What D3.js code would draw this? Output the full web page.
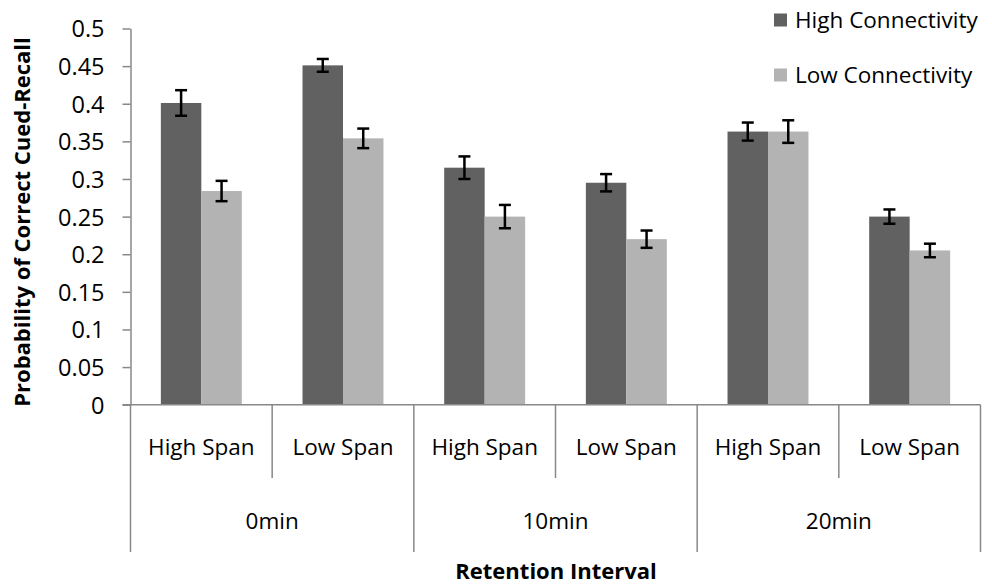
<!DOCTYPE html>
<html>
<head>
<meta charset="utf-8">
<script src="https://cdn.jsdelivr.net/npm/d3@7"></script>
<style>
  html, body { margin: 0; padding: 0; background: #fff; }
  svg { display: block; font-family: "Open Sans", sans-serif; }
</style>
</head>
<body>
<svg id="chart" width="992" height="584"></svg>
<script>
// Retention interval groups and the span conditions within each
const groups = ["0min", "10min", "20min"];
const spans = ["High Span", "Low Span"];
const seriesNames = ["High Connectivity", "Low Connectivity"];
const seriesColors = ["#616161", "#b3b3b3"];

// Mean probability of correct cued-recall, in group/span order
const highConnectivity = [0.401, 0.451, 0.315, 0.295, 0.363, 0.250];
const lowConnectivity  = [0.284, 0.354, 0.250, 0.220, 0.363, 0.205];
// Standard errors
const highConnectivityErr = [0.017, 0.0085, 0.015, 0.0115, 0.012, 0.0095];
const lowConnectivityErr  = [0.0135, 0.013, 0.0155, 0.0115, 0.015, 0.009];

const yTicks = [0, 0.05, 0.1, 0.15, 0.2, 0.25, 0.3, 0.35, 0.4, 0.45, 0.5];

const svg = d3.select("#chart");
const axisColor = "#888888";
const labelSize = "22.5px";
const tickSize = "23.5px";
const titleSize = "22px";

const plot = { left: 130.5, right: 980.5, top: 28.5, bottom: 404.7 };

const cells = [];
groups.forEach(g => spans.forEach(s => cells.push(g + "|" + s)));

const x0 = d3.scaleBand().domain(cells).range([plot.left, plot.right]).paddingInner(0).paddingOuter(0);
const gx = d3.scaleBand().domain(groups).range([plot.left, plot.right]);
const y = d3.scaleLinear().domain([0, 0.5]).range([plot.bottom, plot.top]);

// bars take 1/3.5 of a cell each (gap width 150%)
const barW = x0.bandwidth() / 3.5;
const x1 = d3.scaleBand().domain(seriesNames)
  .range([(x0.bandwidth() - 2 * barW) / 2, (x0.bandwidth() + 2 * barW) / 2]);

const rows = cells.map((c, i) => ({
  cell: c,
  values: [
    { series: seriesNames[0], v: highConnectivity[i], e: highConnectivityErr[i], color: seriesColors[0] },
    { series: seriesNames[1], v: lowConnectivity[i], e: lowConnectivityErr[i], color: seriesColors[1] }
  ]
}));

// y axis
const yAxis = d3.axisLeft(y).tickValues(yTicks).tickSize(8).tickSizeOuter(0)
  .tickFormat(d3.format("~g"));
const yG = svg.append("g").attr("transform", `translate(${plot.left},0)`).call(yAxis);
yG.select(".domain").attr("stroke", axisColor).attr("stroke-width", 1.5);
yG.selectAll(".tick line").attr("stroke", axisColor).attr("stroke-width", 1.5);
yG.selectAll(".tick text").attr("x", -26).attr("dy", "0.36em").attr("fill", "#000")
  .style("font-size", tickSize).style("font-family", "'Open Sans', sans-serif");

// bars
const cellG = svg.append("g").selectAll("g").data(rows).join("g")
  .attr("transform", d => `translate(${x0(d.cell)},0)`);

cellG.selectAll("rect").data(d => d.values).join("rect")
  .attr("x", d => x1(d.series))
  .attr("width", x1.bandwidth())
  .attr("y", d => y(d.v))
  .attr("height", d => y(0) - y(d.v))
  .attr("fill", d => d.color);

// error bars
const errG = cellG.selectAll("g.err").data(d => d.values).join("g").attr("class", "err")
  .attr("transform", d => `translate(${x1(d.series) + x1.bandwidth() / 2},0)`);
errG.append("line").attr("x1", 0).attr("x2", 0)
  .attr("y1", d => y(d.v + d.e)).attr("y2", d => y(d.v - d.e))
  .attr("stroke", "#000").attr("stroke-width", 2.5);
errG.append("line").attr("x1", -6).attr("x2", 6)
  .attr("y1", d => y(d.v + d.e)).attr("y2", d => y(d.v + d.e))
  .attr("stroke", "#000").attr("stroke-width", 2.5);
errG.append("line").attr("x1", -6).attr("x2", 6)
  .attr("y1", d => y(d.v - d.e)).attr("y2", d => y(d.v - d.e))
  .attr("stroke", "#000").attr("stroke-width", 2.5);

// category axis: baseline, dividers and two label tiers
svg.append("line").attr("x1", plot.left - 8).attr("x2", plot.right)
  .attr("y1", y(0)).attr("y2", y(0)).attr("stroke", axisColor).attr("stroke-width", 1.5);

const cellEdges = cells.map(c => x0(c)).concat([plot.right]);
svg.append("g").selectAll("line").data(cellEdges).join("line")
  .attr("x1", d => d).attr("x2", d => d)
  .attr("y1", y(0)).attr("y2", 478)
  .attr("stroke", axisColor).attr("stroke-width", 1.5);

const groupEdges = groups.map(g => gx(g)).concat([plot.right]);
svg.append("g").selectAll("line").data(groupEdges).join("line")
  .attr("x1", d => d).attr("x2", d => d)
  .attr("y1", 478).attr("y2", 552)
  .attr("stroke", axisColor).attr("stroke-width", 1.5);

svg.append("g").selectAll("text").data(cells).join("text")
  .attr("x", d => x0(d) + x0.bandwidth() / 2)
  .attr("y", 447).attr("dy", "0.36em")
  .attr("text-anchor", "middle")
  .style("font-size", labelSize)
  .text(d => d.split("|")[1]);

svg.append("g").selectAll("text").data(groups).join("text")
  .attr("x", d => gx(d) + gx.bandwidth() / 2)
  .attr("y", 521).attr("dy", "0.36em")
  .attr("text-anchor", "middle")
  .style("font-size", labelSize)
  .text(d => d);

// axis titles
svg.append("text")
  .attr("x", 556).attr("y", 571).attr("dy", "0.36em")
  .attr("text-anchor", "middle")
  .style("font-size", titleSize).style("font-weight", "bold")
  .text("Retention Interval");

svg.append("text")
  .attr("transform", "translate(22,222) rotate(-90)")
  .attr("dy", "0.36em")
  .attr("text-anchor", "middle")
  .style("font-size", titleSize).style("font-weight", "bold")
  .text("Probability of Correct Cued-Recall");

// legend
const legend = svg.append("g").selectAll("g").data(seriesNames).join("g")
  .attr("transform", (d, i) => `translate(774,${20 + i * 55})`);
legend.append("rect").attr("x", 0).attr("y", -6.5).attr("width", 13).attr("height", 13)
  .attr("fill", (d, i) => seriesColors[i]);
legend.append("text").attr("x", 21).attr("y", 0).attr("dy", "0.36em")
  .style("font-size", labelSize)
  .text(d => d);
</script>
</body>
</html>
